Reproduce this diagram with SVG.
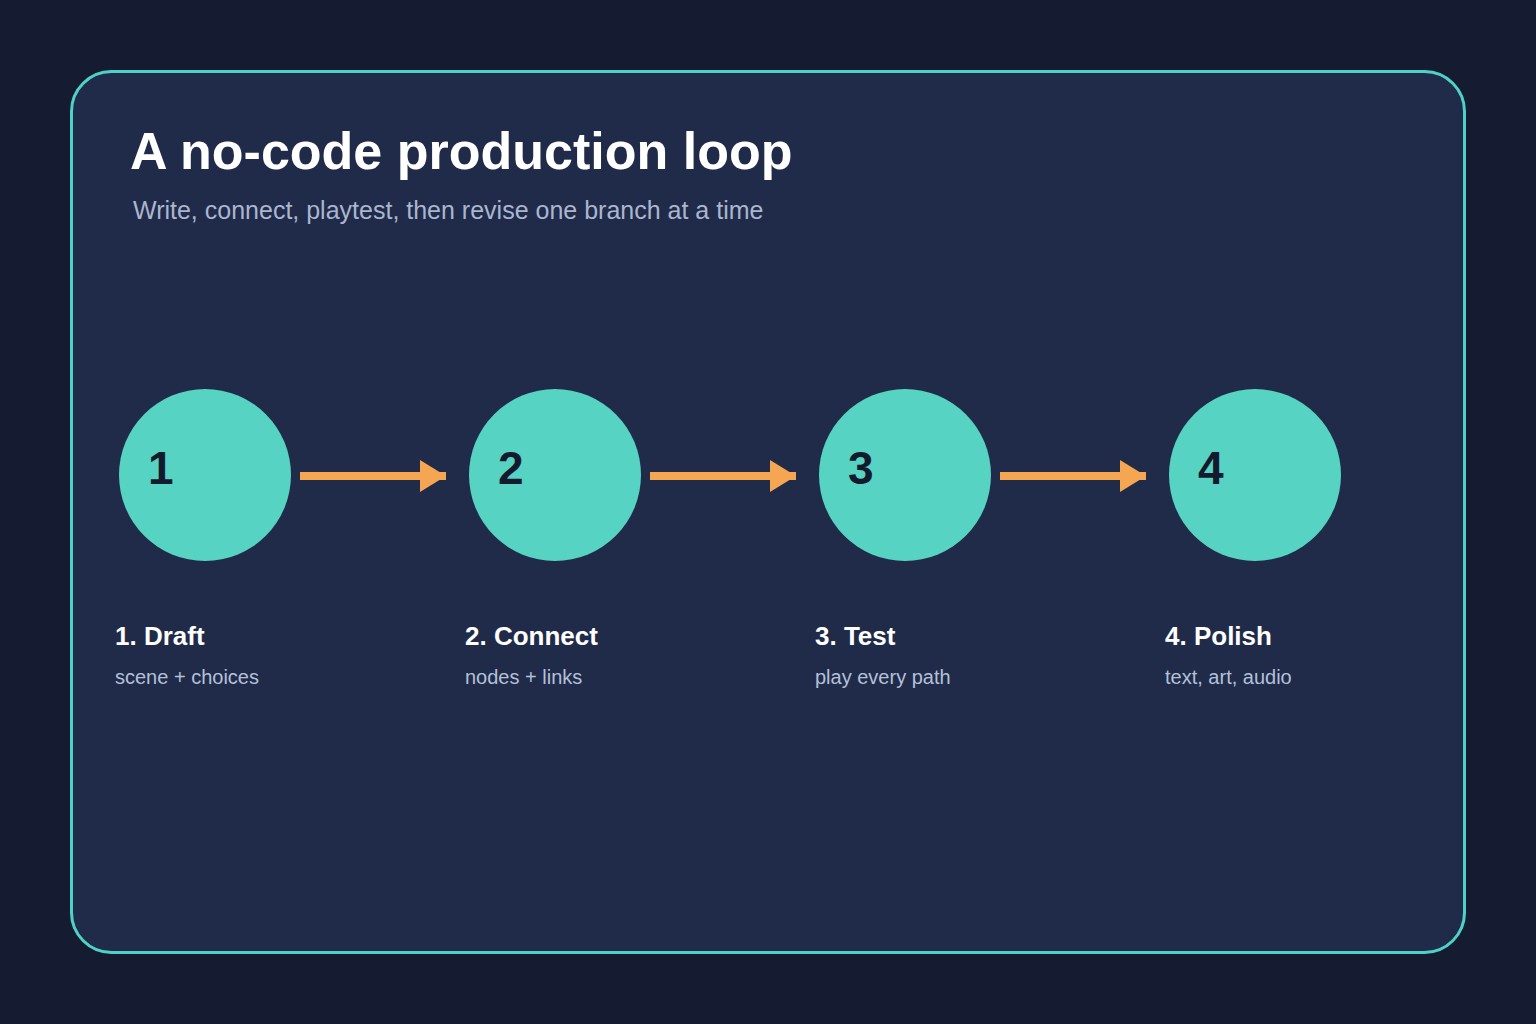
<svg xmlns="http://www.w3.org/2000/svg" width="1536" height="1024" viewBox="0 0 1536 1024">
<style>
.num{font:bold 46px "Liberation Sans",Arial,sans-serif;fill:#141a2e}
.lab{font:bold 26px "Liberation Sans",Arial,sans-serif;fill:#ffffff}
.sub{font:20px "Liberation Sans",Arial,sans-serif;fill:#b4c0d8}
.c{fill:#56d3c2}
.ln{stroke:#f5a653;stroke-width:8}
.hd{fill:#f5a653}
</style>
<rect width="1536" height="1024" fill="#151b31"/>
<rect x="71.5" y="71.5" width="1393" height="881" rx="40" fill="#202b49" stroke="#4fd1c5" stroke-width="3"/>
<text x="130" y="169" style="font:bold 52px 'Liberation Sans',Arial,sans-serif;fill:#ffffff">A no-code production loop</text>
<text x="133" y="219" style="font:25px 'Liberation Sans',Arial,sans-serif;fill:#aab6d0">Write, connect, playtest, then revise one branch at a time</text>
<g id="connectors">
<line class="ln" x1="300" y1="476" x2="446" y2="476"/><polygon class="hd" points="420,460 446,476 420,492"/>
<line class="ln" x1="650" y1="476" x2="796" y2="476"/><polygon class="hd" points="770,460 796,476 770,492"/>
<line class="ln" x1="1000" y1="476" x2="1146" y2="476"/><polygon class="hd" points="1120,460 1146,476 1120,492"/>
</g>
<g id="n1"><circle class="c" cx="205" cy="475" r="86"/><text class="num" x="148" y="484">1</text><text class="lab" x="115" y="645">1. Draft</text><text class="sub" x="115" y="684">scene + choices</text></g>
<g id="n2"><circle class="c" cx="555" cy="475" r="86"/><text class="num" x="498" y="484">2</text><text class="lab" x="465" y="645">2. Connect</text><text class="sub" x="465" y="684">nodes + links</text></g>
<g id="n3"><circle class="c" cx="905" cy="475" r="86"/><text class="num" x="848" y="484">3</text><text class="lab" x="815" y="645">3. Test</text><text class="sub" x="815" y="684">play every path</text></g>
<g id="n4"><circle class="c" cx="1255" cy="475" r="86"/><text class="num" x="1198" y="484">4</text><text class="lab" x="1165" y="645">4. Polish</text><text class="sub" x="1165" y="684">text, art, audio</text></g>
</svg>
